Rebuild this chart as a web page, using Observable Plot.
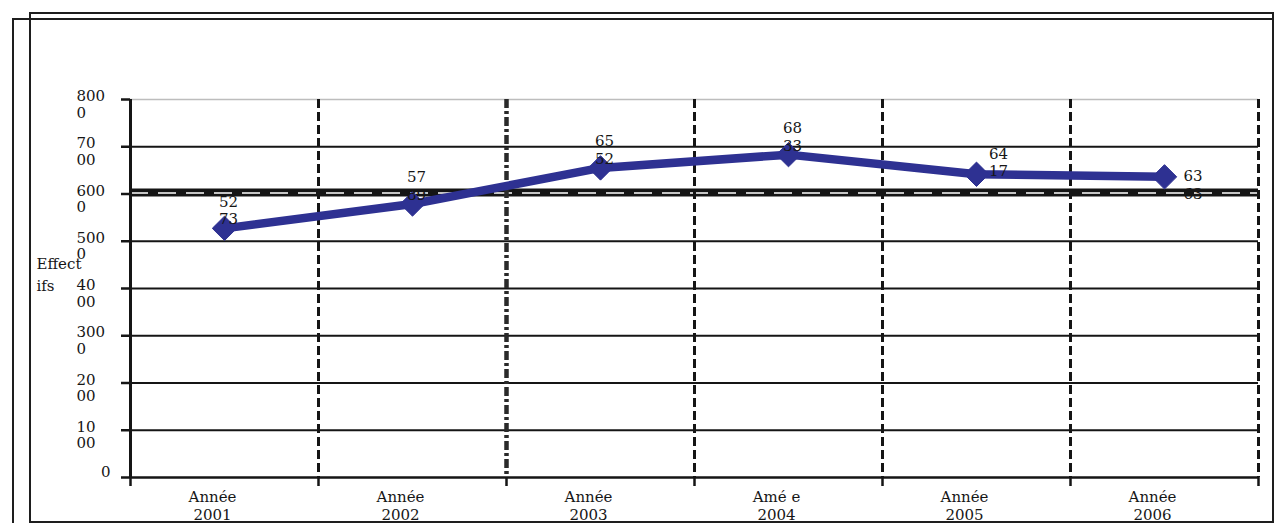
<!DOCTYPE html>
<html>
<head>
<meta charset="utf-8">
<script src="https://cdn.jsdelivr.net/npm/d3@7"></script>
<script src="https://cdn.jsdelivr.net/npm/@observablehq/plot@0.6"></script>
<style>
  html, body { margin: 0; padding: 0; background: #fff; }
  #wrap { position: relative; width: 1277px; height: 523px; overflow: hidden; }
  #chart { position: absolute; left: 0; top: 0; }
  .box { position: absolute; border: 2px solid #1e1e1e; box-sizing: border-box; pointer-events: none; }
</style>
</head>
<body>
<div id="wrap">
  <div id="chart"></div>
  <div class="box" style="left:12px; top:18px; width:1262px; height:600px;"></div>
  <div class="box" style="left:29px; top:12px; width:1245px; height:511px;"></div>
</div>
<script>
// Effectifs par année
const years = ["2001", "2002", "2003", "2004", "2005", "2006"];
const categoryLabels = ["Année\n2001", "Année\n2002", "Année\n2003", "Amé e\n2004", "Année\n2005", "Année\n2006"];
const effectifs = [5273, 5789, 6552, 6833, 6417, 6363];
const yTicks = [0, 1000, 2000, 3000, 4000, 5000, 6000, 7000, 8000];
const yTickLabels = ["0", "10\n00", "20\n00", "300\n0", "40\n00", "500\n0", "600\n0", "70\n00", "800\n0"];
const yTitle = "Effect\nifs";
const labelPlacement = ["above", "above", "above", "above", "above-right", "right"];

// value labels are the values themselves, wrapped after two digits
const wrapValue = v => { const s = String(v); return s.slice(0, 2) + "\n" + s.slice(2); };

const rows = effectifs.map((v, i) => ({
  i, v, year: years[i], cat: categoryLabels[i], label: wrapValue(v), place: labelPlacement[i]
}));
const tickRows = yTicks.map((t, k) => ({ t, label: yTickLabels[k] }));
const edges = d3.range(-0.5, years.length); // category boundaries
const blue = "#2e3192";
const ink = "#151515";
const textInk = "#161616";

const labelMark = (place, opts) => Plot.text(rows.filter(d => d.place === place), {
  x: "i", y: "v", text: "label", fill: textInk, lineHeight: 1.18, ...opts
});

const chart = Plot.plot({
  width: 1277,
  height: 523,
  marginLeft: 130,
  marginRight: 19,
  marginTop: 99,
  marginBottom: 46,
  style: { fontFamily: "'DejaVu Serif', 'Liberation Serif', serif", fontSize: "15px", background: "transparent", color: textInk, overflow: "visible" },
  x: { domain: [-0.5, years.length - 0.5], axis: null },
  y: { domain: [0, 8000], axis: null },
  marks: [
    // horizontal gridlines
    Plot.ruleY(yTicks.filter(t => t !== 8000 && t !== 6000 && t !== 0), { stroke: ink, strokeWidth: 2.2 }),
    Plot.ruleY([8000], { stroke: "#bdbdbd", strokeWidth: 1.5 }),
    // heavy reference line at 6000 with a white dashed core
    Plot.ruleY([6000], { stroke: ink, strokeWidth: 8, dy: -1.5 }),
    Plot.ruleY([6000], { stroke: "#fff", strokeWidth: 1.4, strokeDasharray: "18,10", dy: -1 }),
    // vertical dashed separators between years
    Plot.ruleX(edges.filter((e, k) => k > 0 && k !== 2), { stroke: ink, strokeWidth: 3, strokeDasharray: "9,4" }),
    Plot.ruleX(edges.filter((e, k) => k === 2), { stroke: "#2a2a2a", strokeWidth: 4.5, strokeDasharray: "9,3,3,3" }),
    // axes
    Plot.ruleY([0], { stroke: ink, strokeWidth: 2.5 }),
    Plot.ruleX([edges[0]], { stroke: ink, strokeWidth: 3 }),
    Plot.axisY({ ticks: yTicks, tickSize: 9, tickFormat: () => "", label: null, stroke: ink, strokeWidth: 2.5 }),
    Plot.axisX({ ticks: edges, tickSize: 9, tickFormat: () => "", label: null, stroke: ink, strokeWidth: 2.5 }),
    // y tick labels
    Plot.text(tickRows.filter(d => d.label.includes("\n")), {
      y: "t", text: "label", frameAnchor: "left", textAnchor: "start", lineAnchor: "top",
      dx: -54, dy: -10, lineHeight: 1.1, fill: textInk
    }),
    Plot.text(tickRows.filter(d => !d.label.includes("\n")), {
      y: "t", text: "label", frameAnchor: "left", textAnchor: "end", lineAnchor: "middle",
      dx: -20, dy: -5, fill: textInk
    }),
    // y title
    Plot.text([yTitle], {
      frameAnchor: "left", textAnchor: "start", lineAnchor: "top", dx: -94, dy: -35,
      lineHeight: 1.45, fill: textInk
    }),
    // category labels
    Plot.text(rows, {
      x: "i", text: "cat", frameAnchor: "bottom", lineAnchor: "top", dx: -12, dy: 12,
      lineHeight: 1.2, fill: textInk
    }),
    // series
    Plot.line(rows, { x: "i", y: "v", stroke: blue, strokeWidth: 8.5, strokeLinejoin: "round" }),
    Plot.dot(rows, { x: "i", y: "v", symbol: "diamond2", r: 11, fill: blue, stroke: blue, strokeWidth: 1 }),
    // value labels
    labelMark("above", { lineAnchor: "bottom", dx: 4, dy: -4 }),
    labelMark("above-right", { lineAnchor: "bottom", dx: 22, dy: 2 }),
    labelMark("right", { lineAnchor: "top", textAnchor: "start", dx: 19, dy: -8 })
  ]
});

document.getElementById("chart").appendChild(chart);
</script>
</body>
</html>
